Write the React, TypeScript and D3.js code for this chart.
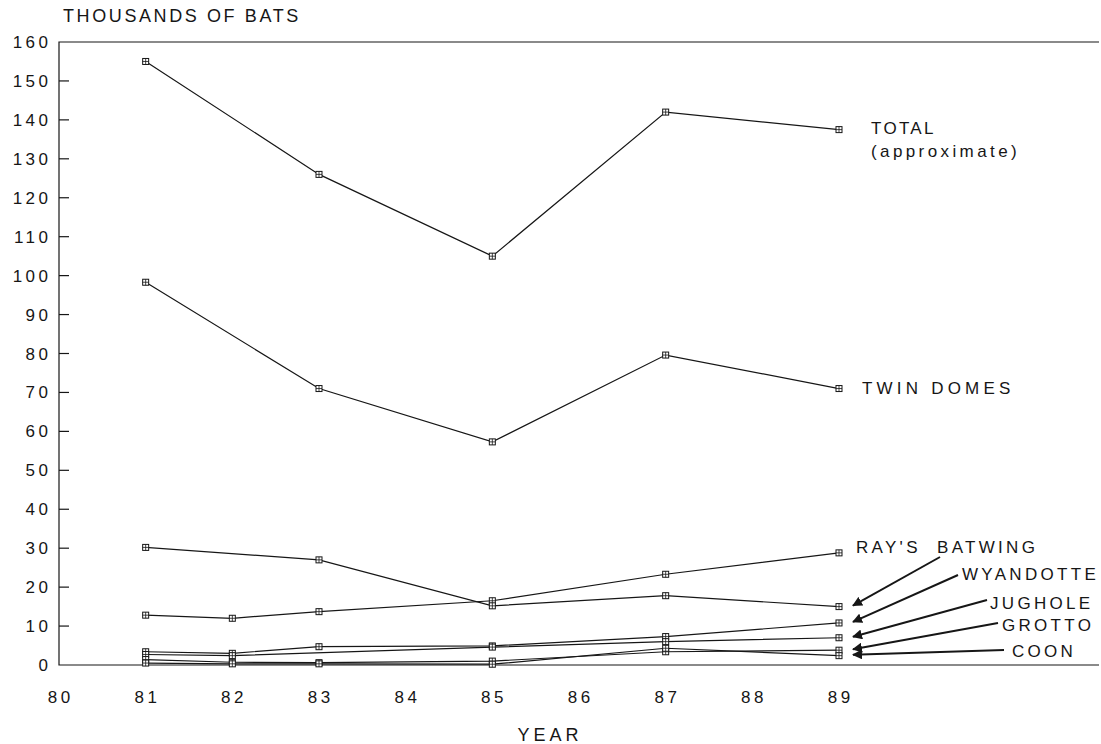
import { useEffect } from "react";
import * as d3 from "d3";

// years surveyed and bat counts (thousands) per cave; null = not surveyed
const years = [81, 82, 83, 85, 87, 89];
const totalCounts = [155, null, 126, 105, 142, 137.5];
const twinDomes = [98.3, null, 71, 57.3, 79.6, 71];
const raysCave = [12.8, 12.0, 13.7, 16.5, 23.3, 28.8];
const batwing = [30.2, null, 27.0, 15.2, 17.8, 15.0];
const wyandotte = [3.4, 3.0, 4.7, 4.9, 7.3, 10.8];
const jughole = [2.7, 2.4, null, 4.6, 6.0, 7.0];
const grotto = [1.4, 0.7, 0.6, 1.0, 3.4, 3.8];
const coon = [0.5, 0.3, 0.3, 0.2, 4.3, 2.4];

const allSeries = [totalCounts, twinDomes, raysCave, batwing, wyandotte, jughole, grotto, coon];

const yTicks = d3.range(0, 161, 10);
const xTicks = d3.range(80, 90, 1);

const W = 1101;
const H = 744;
const FONT = "'Liberation Sans', Arial, Helvetica, sans-serif";
const INK = "#161616";

// arrow annotations: label text, label anchor, arrow tail, target series
const arrowNotes = [
  { text: "BATWING", lx: 937, ly: 553, tx: 940, ty: 557, series: batwing },
  { text: "WYANDOTTE", lx: 962, ly: 580, tx: 958, ty: 575, series: wyandotte },
  { text: "JUGHOLE", lx: 990, ly: 609, tx: 987, ty: 600, series: jughole },
  { text: "GROTTO", lx: 1002, ly: 631, tx: 998, ty: 623, series: grotto },
  { text: "COON", lx: 1012, ly: 657, tx: 1004, ty: 650, series: coon },
];

function Marker({ x, y }: { x: number; y: number }) {
  return (
    <g transform={`translate(${x},${y})`}>
      <rect x={-3} y={-3} width={6} height={6} fill="#fff" stroke={INK} strokeWidth={1} />
      <path d="M-3,0H3M0,-3V3" stroke={INK} strokeWidth={0.8} />
    </g>
  );
}

export default function App() {
  useEffect(() => {
    document.body.style.margin = "0";
  }, []);

  const x = d3.scaleLinear().domain([80, 92]).range([59, 1099]);
  const y = d3.scaleLinear().domain([0, 160]).range([665, 42]);

  const line = d3
    .line<[number, number]>()
    .x((d) => x(d[0]))
    .y((d) => y(d[1]));

  // skipped years are bridged, as in the original plot
  const pts = (s: (number | null)[]) =>
    s.flatMap((v, i) => (v === null ? [] : [[years[i], v] as [number, number]]));

  const tickStyle = { fontFamily: FONT, fontSize: 17, letterSpacing: 3.5, fill: INK };
  const labelStyle = { fontFamily: FONT, fontSize: 17, letterSpacing: 3.3, fill: INK };

  return (
    <svg width={W} height={H} style={{ display: "block", background: "#fff" }}>
      <defs>
        <marker id="ah" viewBox="0 0 10 10" refX={9} refY={5} markerWidth={5} markerHeight={5} orient="auto">
          <path d="M0,0L10,5L0,10z" fill={INK} />
        </marker>
      </defs>

      {/* frame: left axis, top border, baseline */}
      <path
        d={`M${x(92)},${y(160)}H${x(80)}V${y(0)}H${x(92)}`}
        fill="none"
        stroke={INK}
        strokeWidth={1.2}
      />
      {yTicks
        .filter((t) => t > 0 && t < 160)
        .map((t) => (
          <line key={t} x1={x(80)} x2={x(80) + 10} y1={y(t)} y2={y(t)} stroke={INK} strokeWidth={1.2} />
        ))}
      {yTicks.map((t) => (
        <text key={t} x={48 + 3.5} y={y(t) + 6} textAnchor="end" {...tickStyle}>
          {t}
        </text>
      ))}
      {xTicks.map((t) => (
        <text key={t} x={x(t) + 1.75} y={703} textAnchor="middle" {...tickStyle}>
          {t}
        </text>
      ))}

      <text x={63} y={22} fontFamily={FONT} fontSize={18} letterSpacing={2.6} fill={INK}>
        THOUSANDS OF BATS
      </text>
      <text x={550} y={741} textAnchor="middle" fontFamily={FONT} fontSize={18} letterSpacing={4} fill={INK}>
        YEAR
      </text>

      {/* series */}
      {allSeries.map((s, k) => (
        <path key={k} d={line(pts(s)) ?? ""} fill="none" stroke={INK} strokeWidth={1.2} />
      ))}
      {allSeries.map((s, k) =>
        pts(s).map((p, i) => <Marker key={`${k}-${i}`} x={x(p[0])} y={y(p[1])} />)
      )}

      {/* direct labels */}
      <text x={871} y={134} {...labelStyle} letterSpacing={2.3}>TOTAL</text>
      <text x={871} y={157} {...labelStyle} letterSpacing={3.4}>(approximate)</text>
      <text x={862} y={394} {...labelStyle} letterSpacing={4.2}>TWIN DOMES</text>
      <text x={856} y={553} {...labelStyle}>RAY'S</text>

      {arrowNotes.map((n) => {
        const hx = x(89) + 14;
        const hy = y(n.series[n.series.length - 1] as number) - 1;
        return (
          <g key={n.text}>
            <line x1={n.tx} y1={n.ty} x2={hx} y2={hy} stroke={INK} strokeWidth={2} markerEnd="url(#ah)" />
            <text x={n.lx} y={n.ly} {...labelStyle}>
              {n.text}
            </text>
          </g>
        );
      })}
    </svg>
  );
}
